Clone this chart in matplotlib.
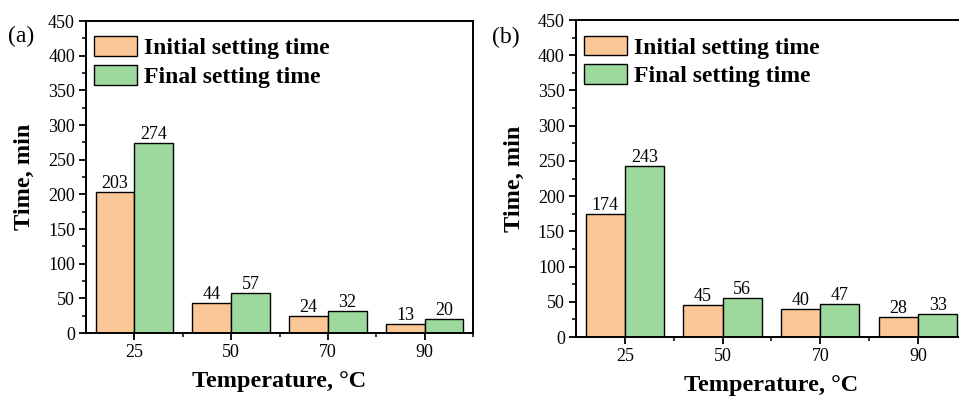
import numpy as np
import matplotlib; matplotlib.use("Agg"); import matplotlib.pyplot as plt
from matplotlib.ticker import MultipleLocator

temps = ["25", "50", "70", "90"]
initial_a = [203, 44, 24, 13]
final_a = [274, 57, 32, 20]
initial_b = [174, 45, 40, 28]
final_b = [243, 56, 47, 33]

ORANGE = "#FCC796"; GREEN = "#9DD89C"
plt.rcParams.update({"font.family": ["Liberation Serif", "DejaVu Serif"], "font.size": 13,
                     "axes.linewidth": 1.4, "xtick.major.width": 1.3, "ytick.major.width": 1.3,
                     "xtick.minor.width": 1.1, "ytick.minor.width": 1.1})

fig = plt.figure(figsize=(9.59, 3.97), dpi=100)
axes = [fig.add_axes([0.0897, 0.1612, 0.4035, 0.7858]),
        fig.add_axes([0.6006, 0.151, 0.4077, 0.7986])]
panels = [("(a)", initial_a, final_a, -0.2015, 0.949), ("(b)", initial_b, final_b, -0.215, 0.946)]

x = np.arange(len(temps)); w = 0.4
for ax, (tag, ini, fin, tx, ty) in zip(axes, panels):
    b1 = ax.bar(x - w/2, ini, w, color=ORANGE, edgecolor="black", linewidth=1.0, label="Initial setting time")
    b2 = ax.bar(x + w/2, fin, w, color=GREEN, edgecolor="black", linewidth=1.0, label="Final setting time")
    ax.bar_label(b1, padding=0, fontsize=13)
    ax.bar_label(b2, padding=0, fontsize=13)
    ax.set_xlim(-0.5, 3.5); ax.set_ylim(0, 450)
    ax.set_xticks(x, temps)
    ax.set_xticks(x + 0.5, minor=True)
    ax.yaxis.set_major_locator(MultipleLocator(50)); ax.yaxis.set_minor_locator(MultipleLocator(25))
    ax.tick_params(which="both", direction="out", labelsize=13)
    ax.tick_params(which="major", length=5, pad=3); ax.tick_params(which="minor", length=3)
    ax.set_xlabel("Temperature, °C", fontsize=17.5, fontweight="bold", labelpad=7)
    ax.set_ylabel("Time, min", fontsize=17.5, fontweight="bold", labelpad=9)
    ax.legend(loc="upper left", bbox_to_anchor=(0, 0.977), frameon=False, prop={"weight": "bold", "size": 17},
              handlelength=1.8, handleheight=0.9, handletextpad=0.3, labelspacing=0.25,
              borderaxespad=0.25, borderpad=0.1)
    ax.text(tx, ty, tag, transform=ax.transAxes, fontsize=17, ha="left", va="center")

fig.savefig("out.png", dpi=100)
